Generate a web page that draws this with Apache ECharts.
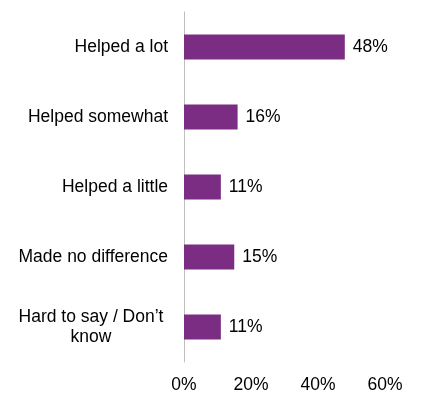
<!DOCTYPE html>
<html><head><meta charset="utf-8">
<script src="https://cdn.jsdelivr.net/npm/echarts@6/dist/echarts.min.js"></script>
<style>html,body{margin:0;padding:0;background:#fff}#c{width:421px;height:401px}</style>
</head><body><div id="c"></div>
<script>
const categories = ['Helped a lot','Helped somewhat','Helped a little','Made no difference','Hard to say / Don’t know'];
const values = [48,16,11,15,11];
const ticks = [0,20,40,60];
const chart = echarts.init(document.getElementById('c'));
const font = 'Liberation Sans, Arial, sans-serif';
const fs = 17.5;
chart.setOption({
  animation:false,
  grid:{left:184,right:36,top:12,bottom:39,containLabel:false},
  xAxis:{type:'value',min:0,max:60,interval:20,
    axisLine:{show:false},axisTick:{show:false},splitLine:{show:false},
    axisLabel:{formatter:'{value}%',color:'#000',fontSize:fs,fontFamily:font,margin:14}},
  yAxis:{type:'category',inverse:true,data:categories,
    axisLine:{show:true,lineStyle:{color:'#bfbfbf'}},axisTick:{show:false},
    axisLabel:{color:'#000',fontSize:fs,fontFamily:font,margin:16,
      formatter:v=> v.length>20 ? '{c|Hard to say / Don’t}\n{c|know}' : v,
      rich:{c:{width:154,align:'center',fontSize:fs,fontFamily:font,color:'#000',lineHeight:20}}}},
  series:[{type:'bar',data:values,barWidth:25,itemStyle:{color:'#7B2C83'},
    label:{show:true,position:'right',formatter:'{c}%',color:'#000',fontSize:fs,fontFamily:font,distance:8}}]
});
</script></body></html>
